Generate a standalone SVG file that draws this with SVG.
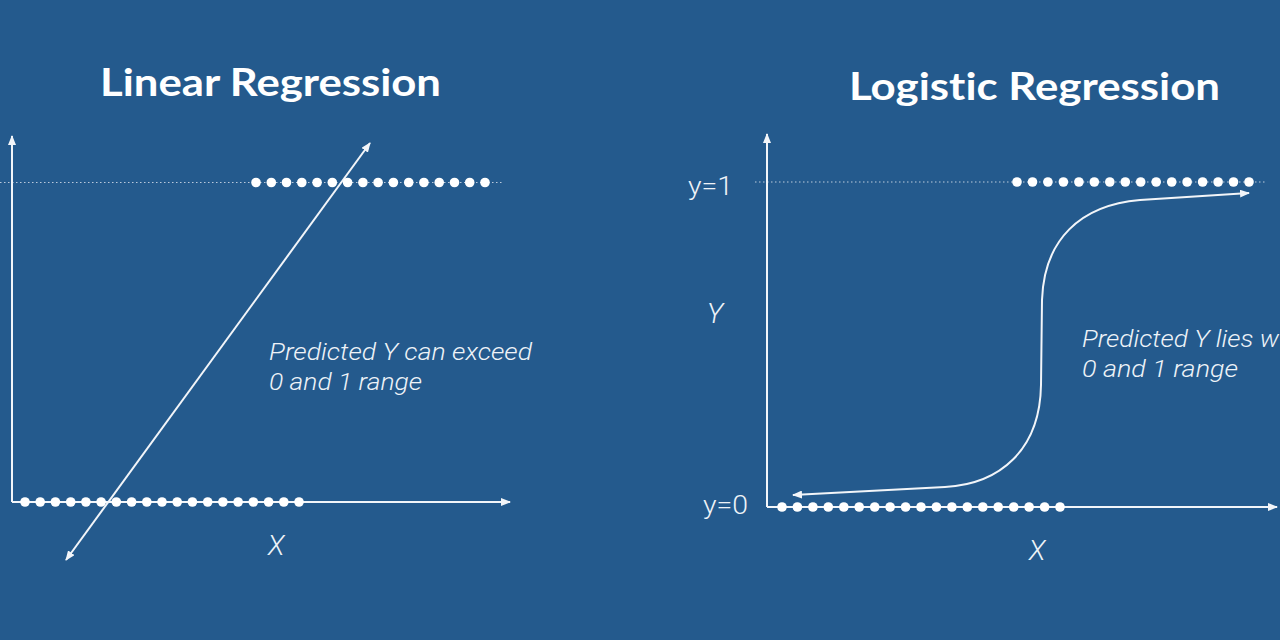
<svg xmlns="http://www.w3.org/2000/svg" width="1280" height="640" viewBox="0 0 1280 640">
  <defs>
    <style>
      .title { font-family: Lato, "Liberation Sans", sans-serif; font-weight: 700; font-size: 38px; fill: #ffffff; font-variant-ligatures: none; }
      .note { font-family: Roboto, "Liberation Sans", sans-serif; font-weight: 300; font-style: italic; font-size: 23.5px; fill: #eef3f8; }
      .axislbl { font-family: Roboto, "Liberation Sans", sans-serif; font-weight: 300; font-style: italic; font-size: 28px; fill: #eef3f8; }
      .tick { font-family: Roboto, "Liberation Sans", sans-serif; font-weight: 300; font-size: 25px; fill: #eef3f8; }
      .axis { stroke: #f2f5f9; stroke-width: 2; fill: none; }
      .guide { stroke: #b9c9dc; stroke-width: 1.2; stroke-dasharray: 1.5 2.5; fill: none; }
      .curve { stroke: #f2f5f9; stroke-width: 2; fill: none; }
      .dot { fill: #ffffff; }
    </style>
    <marker id="ah" viewBox="0 0 10 8" refX="9" refY="4" markerWidth="10" markerHeight="8" markerUnits="userSpaceOnUse" orient="auto-start-reverse">
      <path d="M0,0 L10,4 L0,8 z" fill="#f2f5f9"/>
    </marker>
    <circle id="d" r="4.8" class="dot"/>
  </defs>

  <rect x="0" y="0" width="1280" height="640" fill="#245a8d"/>

  <!-- Left: Linear Regression -->
  <g id="title-linear">
    <text class="title" x="100" y="96" textLength="341" lengthAdjust="spacingAndGlyphs">Linear Regression</text>
  </g>

  <g id="connectors">
    <!-- left axes -->
    <line class="guide" x1="0" y1="182.5" x2="502" y2="182.5"/>
    <path class="axis" d="M12,502 L12,136" marker-end="url(#ah)"/>
    <path class="axis" d="M12,502 L510,502" marker-end="url(#ah)"/>
    <path class="curve" d="M66,560 L370,143" marker-start="url(#ah)" marker-end="url(#ah)"/>
    <!-- right axes -->
    <line class="guide" x1="755" y1="182" x2="1266" y2="182"/>
    <path class="axis" d="M767,507 L767,134" marker-end="url(#ah)"/>
    <path class="axis" d="M767,507 L1277,507" marker-end="url(#ah)"/>
    <path class="curve" d="M793,495 L945,487 C1000,484 1040,450 1041,385 L1042,300 C1044,240 1080,205 1140,200 L1249,193" marker-start="url(#ah)" marker-end="url(#ah)"/>
  </g>

  <g id="dots-linear-top">
    <use href="#d" x="256" y="182.5"/><use href="#d" x="271.3" y="182.5"/><use href="#d" x="286.5" y="182.5"/><use href="#d" x="301.8" y="182.5"/>
    <use href="#d" x="317.1" y="182.5"/><use href="#d" x="332.3" y="182.5"/><use href="#d" x="347.6" y="182.5"/><use href="#d" x="362.9" y="182.5"/>
    <use href="#d" x="378.1" y="182.5"/><use href="#d" x="393.4" y="182.5"/><use href="#d" x="408.7" y="182.5"/><use href="#d" x="423.9" y="182.5"/>
    <use href="#d" x="439.2" y="182.5"/><use href="#d" x="454.5" y="182.5"/><use href="#d" x="469.7" y="182.5"/><use href="#d" x="485" y="182.5"/>
  </g>
  <g id="dots-linear-bottom">
    <use href="#d" x="25" y="502"/><use href="#d" x="40.2" y="502"/><use href="#d" x="55.4" y="502"/><use href="#d" x="70.7" y="502"/>
    <use href="#d" x="85.9" y="502"/><use href="#d" x="101.1" y="502"/><use href="#d" x="116.3" y="502"/><use href="#d" x="131.6" y="502"/>
    <use href="#d" x="146.8" y="502"/><use href="#d" x="162" y="502"/><use href="#d" x="177.2" y="502"/><use href="#d" x="192.4" y="502"/>
    <use href="#d" x="207.7" y="502"/><use href="#d" x="222.9" y="502"/><use href="#d" x="238.1" y="502"/><use href="#d" x="253.3" y="502"/>
    <use href="#d" x="268.6" y="502"/><use href="#d" x="283.8" y="502"/><use href="#d" x="299" y="502"/>
  </g>

  <g id="note-linear">
    <text class="note" x="269" y="360" textLength="263" lengthAdjust="spacingAndGlyphs">Predicted Y can exceed</text>
    <text class="note" x="269" y="390" textLength="153" lengthAdjust="spacingAndGlyphs">0 and 1 range</text>
  </g>
  <g id="xlabel-linear">
    <text class="axislbl" x="276" y="555" text-anchor="middle">X</text>
  </g>

  <!-- Right: Logistic Regression -->
  <g id="title-logistic">
    <text class="title" x="849" y="100" textLength="371" lengthAdjust="spacingAndGlyphs">Logistic Regression</text>
  </g>

  <g id="dots-logistic-top">
    <use href="#d" x="1017" y="182"/><use href="#d" x="1032.5" y="182"/><use href="#d" x="1047.9" y="182"/><use href="#d" x="1063.4" y="182"/>
    <use href="#d" x="1078.9" y="182"/><use href="#d" x="1094.3" y="182"/><use href="#d" x="1109.8" y="182"/><use href="#d" x="1125.3" y="182"/>
    <use href="#d" x="1140.7" y="182"/><use href="#d" x="1156.2" y="182"/><use href="#d" x="1171.7" y="182"/><use href="#d" x="1187.1" y="182"/>
    <use href="#d" x="1202.6" y="182"/><use href="#d" x="1218.1" y="182"/><use href="#d" x="1233.5" y="182"/><use href="#d" x="1249" y="182"/>
  </g>
  <g id="dots-logistic-bottom">
    <use href="#d" x="782" y="507"/><use href="#d" x="797.4" y="507"/><use href="#d" x="812.9" y="507"/><use href="#d" x="828.3" y="507"/>
    <use href="#d" x="843.8" y="507"/><use href="#d" x="859.2" y="507"/><use href="#d" x="874.7" y="507"/><use href="#d" x="890.1" y="507"/>
    <use href="#d" x="905.6" y="507"/><use href="#d" x="921" y="507"/><use href="#d" x="936.4" y="507"/><use href="#d" x="951.9" y="507"/>
    <use href="#d" x="967.3" y="507"/><use href="#d" x="982.8" y="507"/><use href="#d" x="998.2" y="507"/><use href="#d" x="1013.7" y="507"/>
    <use href="#d" x="1029.1" y="507"/><use href="#d" x="1044.6" y="507"/><use href="#d" x="1060" y="507"/>
  </g>

  <g id="ticks-logistic">
    <text class="tick" x="688" y="195" textLength="45" lengthAdjust="spacingAndGlyphs">y=1</text>
    <text class="tick" x="703" y="514" textLength="45" lengthAdjust="spacingAndGlyphs">y=0</text>
  </g>
  <g id="ylabel-logistic">
    <text class="axislbl" x="715" y="323" text-anchor="middle">Y</text>
  </g>
  <g id="xlabel-logistic">
    <text class="axislbl" x="1037" y="560" text-anchor="middle">X</text>
  </g>
  <g id="note-logistic">
    <text class="note" x="1082" y="347" textLength="197" lengthAdjust="spacingAndGlyphs">Predicted Y lies w</text>
    <text class="note" x="1082" y="377" textLength="156" lengthAdjust="spacingAndGlyphs">0 and 1 range</text>
  </g>
</svg>
